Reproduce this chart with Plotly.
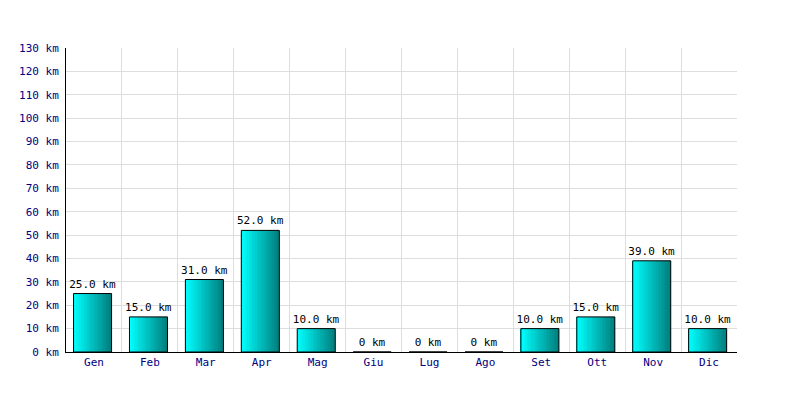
import plotly.graph_objects as go

months = ["Gen", "Feb", "Mar", "Apr", "Mag", "Giu", "Lug", "Ago", "Set", "Ott", "Nov", "Dic"]
km = [25, 15, 31, 52, 10, 0, 0, 0, 10, 15, 39, 10]
labels = [f"{v:.1f} km" if v else "0 km" for v in km]

BAR_W = 0.68
SHIFT = -0.025
N = 24
c0 = (0, 255, 255)
c1 = (0, 128, 128)

fig = go.Figure()
for k in range(N):
    t = k / (N - 1)
    col = "rgb({},{},{})".format(*[round(a + (b - a) * t) for a, b in zip(c0, c1)])
    fig.add_trace(go.Bar(
        x=months, y=km, width=BAR_W / N * 1.05, offset=-BAR_W / 2 + SHIFT + k * BAR_W / N,
        marker=dict(color=col, line=dict(width=0)), hoverinfo="skip", showlegend=False,
    ))
fig.add_trace(go.Bar(
    x=months, y=km, width=BAR_W, offset=-BAR_W / 2 + SHIFT,
    marker=dict(color="rgba(0,0,0,0)", line=dict(color="black", width=1)),
    text=labels, textposition="outside", cliponaxis=False, constraintext="none",
    textfont=dict(family="DejaVu Sans Mono", size=11, color="black"),
    showlegend=False,
))

fig.update_layout(
    width=800, height=400, barmode="overlay",
    margin=dict(l=58, r=71, t=40, b=56, autoexpand=False),
    paper_bgcolor="white", plot_bgcolor="white",
    font=dict(family="DejaVu Sans Mono", size=11, color="#000080"),
)
fig.update_xaxes(
    type="category", tickson="boundaries", range=[-0.5, 11.5], automargin=False,
    showgrid=True, gridcolor="#dddddd", gridwidth=1,
    showline=True, linecolor="black", linewidth=1,
    ticks="", tickfont=dict(color="#000080", size=11),
)
fig.update_yaxes(
    range=[0, 130], dtick=10, ticksuffix=" km", automargin=False,
    showgrid=True, gridcolor="#dddddd", gridwidth=1,
    showline=True, linecolor="black", linewidth=1, ticklabelstandoff=4,
    zeroline=False, ticks="", tickfont=dict(color="#000080", size=11),
)
fig.write_html("out.html")
